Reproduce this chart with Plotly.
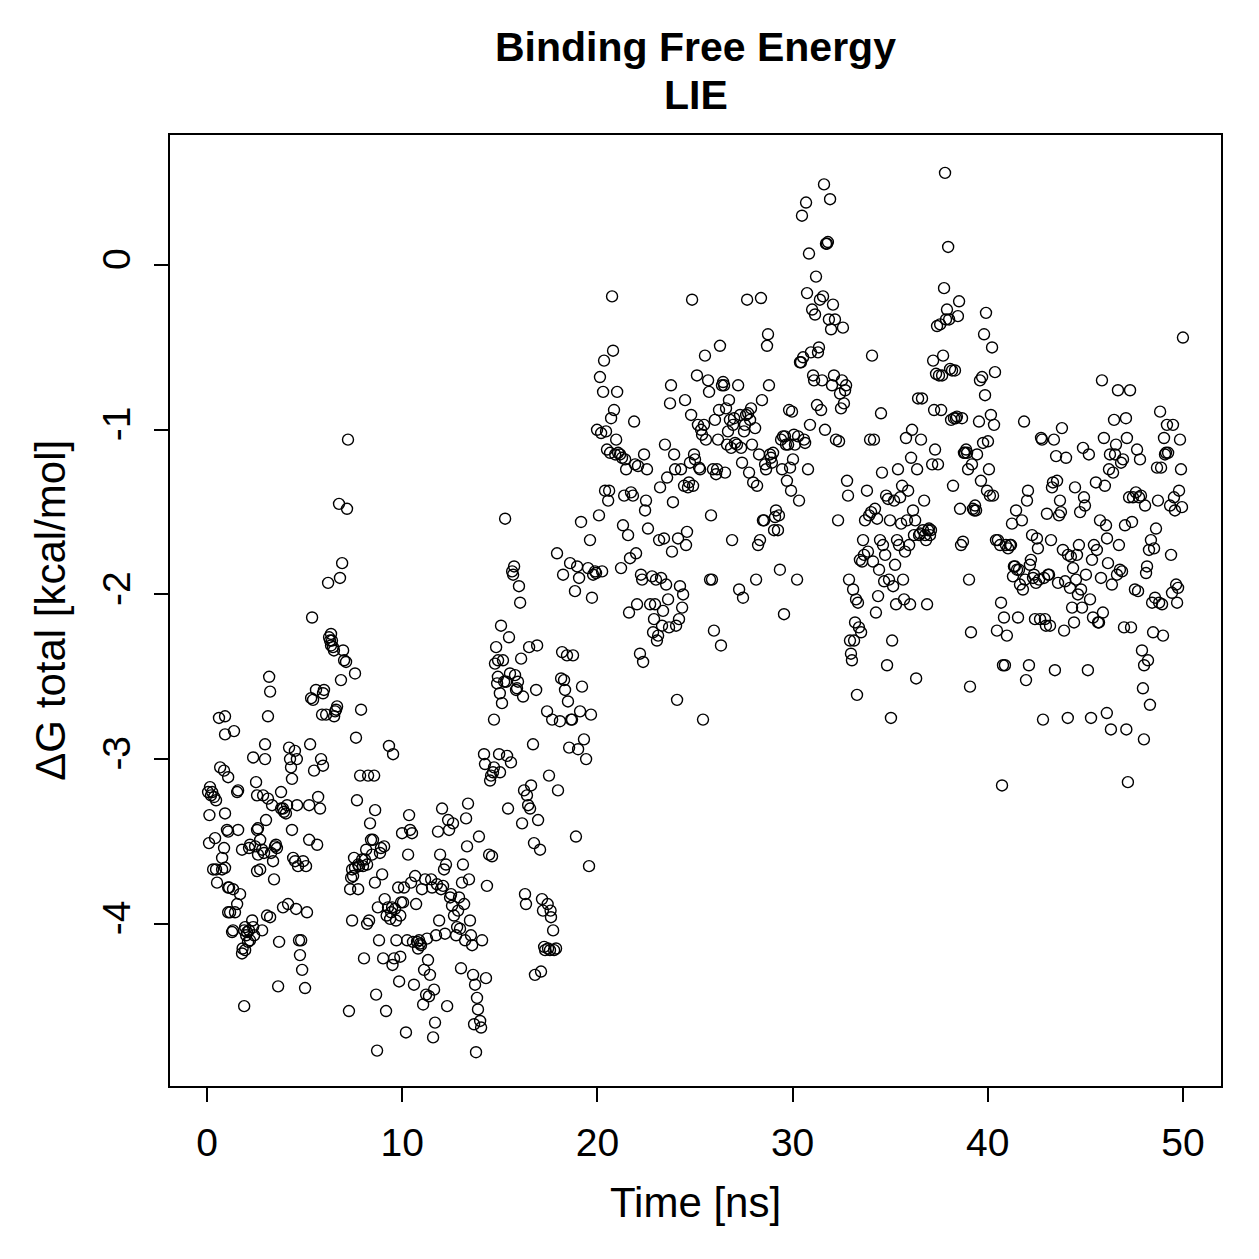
import plotly.graph_objects as go

# ---- data: time [ns] and dG total [kcal/mol] ----
time_00_10 = [
    0.10, 0.12, 0.15, 0.26, 0.36, 0.46, 0.41, 0.51, 0.46, 0.61,
    0.77, 0.77, 0.87, 0.92, 0.92, 0.87, 1.02, 1.13, 1.18, 1.33,
    1.38, 1.43, 1.54, 1.54, 1.59, 1.69, 1.79, 1.82, 1.90, 1.90,
    2.00, 2.05, 2.15, 2.15, 2.20, 2.31, 2.36, 2.41, 2.46, 2.51,
    2.61, 2.72, 2.61, 2.72, 2.82, 2.82, 2.92, 3.02, 3.07, 3.12,
    3.18, 3.12, 3.23, 2.97, 3.33, 3.38, 3.43, 3.48, 3.53, 3.58,
    3.64, 3.69, 3.79, 3.79, 3.89, 3.94, 4.04, 4.10, 4.15, 2.36,
    0.67, 1.08, 2.56, 2.87, 0.92, 1.08, 1.59, 2.56, 1.79, 2.20,
    0.31, 0.92, 2.56, 1.08, 1.33, 1.08, 1.28, 1.95, 2.10, 1.95,
    3.23, 3.89, 0.05, 0.20, 2.97, 3.28,
    4.20, 4.25, 4.30, 4.35, 4.35, 4.41, 4.51, 4.56, 4.61, 4.66,
    4.71, 4.76, 4.82, 4.87, 4.92, 5.02, 5.07, 5.12, 5.23, 5.23,
    5.28, 5.33, 5.38, 5.43, 5.48, 5.58, 5.64, 5.69, 5.79, 5.84,
    5.89, 5.94, 5.94, 5.99, 6.10, 4.50, 4.60,
    6.20, 6.25, 6.30, 6.35, 6.40, 6.45, 6.51, 6.56, 6.61, 6.66,
    6.76, 6.81, 6.86, 6.92, 6.97, 7.02, 7.12, 7.17, 7.22, 7.27,
    7.33, 7.38, 7.43, 7.48, 7.53, 7.58, 7.63, 7.68, 7.74, 7.79,
    7.74, 7.84, 7.89, 7.94, 7.99, 7.58, 7.43, 6.35, 6.50,
    8.04, 8.09, 8.15, 8.20, 8.25, 8.35, 8.40, 8.45, 8.50, 8.56,
    8.61, 8.66, 8.71, 8.81, 8.86, 8.91, 8.97, 9.02, 9.07, 9.17,
    9.27, 9.32, 9.38, 9.43, 9.48, 9.53, 9.58, 9.63, 9.68, 9.79,
    9.84, 9.94, 9.99, 8.60, 8.75, 9.10, 9.20, 9.90, 9.70, 9.50,
    9.90, 8.20, 8.30,
]
dg_00_10 = [
    -3.51, -3.34, -3.17, -3.20, -3.23, -3.25, -3.48, -3.75, -3.67, -2.75,
    -3.60, -3.67, -3.54, -2.74, -2.85, -3.07, -3.43, -3.78, -3.93, -4.04,
    -2.83, -3.93, -3.88, -3.20, -3.19, -3.82, -4.18, -4.15, -4.04, -4.50,
    -4.07, -4.05, -4.04, -3.54, -4.10, -3.98, -4.02, -4.07, -3.53, -3.14,
    -3.42, -3.49, -3.58, -3.67, -3.55, -4.04, -3.57, -3.37, -3.95, -3.24,
    -2.50, -2.74, -2.59, -2.91, -3.28, -3.62, -3.73, -3.53, -3.52, -3.54,
    -4.38, -4.11, -3.20, -3.30, -3.30, -3.32, -3.33, -3.28, -3.88, -2.99,
    -3.05, -3.11, -3.22, -3.22, -3.33, -3.44, -3.43, -3.43, -3.55, -3.52,
    -3.67, -3.66, -3.68, -3.78, -3.79, -3.93, -4.05, -4.02, -4.11, -4.16,
    -3.96, -3.90, -3.20, -3.22, -3.00, -3.57,
    -2.93, -3.00, -3.05, -3.12, -3.43, -3.60, -3.62, -3.91, -3.28, -3.65,
    -4.10, -4.19, -4.10, -4.28, -3.62, -4.39, -3.65, -3.93, -3.49, -3.28,
    -2.91, -2.63, -2.14, -2.64, -3.07, -2.58, -3.52, -3.23, -3.30, -3.00,
    -2.73, -3.04, -2.60, -2.58, -2.73, -2.95, -3.00,
    -1.93, -2.26, -2.28, -2.31, -2.28, -2.32, -2.74, -2.71, -2.70, -2.68,
    -1.45, -1.90, -2.52, -1.81, -2.34, -2.40, -2.41, -1.48, -1.06, -4.53,
    -3.79, -3.72, -3.67, -3.71, -3.60, -3.66, -2.87, -3.25, -3.64, -3.65,
    -3.79, -3.10, -2.70, -3.61, -3.65, -2.48, -3.98, -2.24, -2.34,
    -4.21, -3.61, -3.55, -3.64, -3.10, -3.39, -3.49, -3.58, -3.49, -3.10,
    -3.31, -4.43, -4.77, -4.10, -3.57, -3.54, -3.70, -4.21, -3.53, -4.53,
    -3.90, -2.92, -3.97, -3.93, -3.90, -2.97, -4.21, -3.91, -3.98, -3.78,
    -4.35, -3.87, -3.45, -3.75, -3.90, -3.85, -3.95, -3.95, -4.10, -4.25,
    -4.20, -4.00, -3.98,
]

time_10_20 = [
    10.04, 10.09, 10.19, 10.25, 10.30, 10.35, 10.40, 10.45, 10.50, 10.55,
    10.60, 10.66, 10.71, 10.76, 10.81, 10.86, 10.91, 10.96, 11.01, 11.07,
    11.12, 11.17, 11.22, 11.27, 11.32, 11.37, 11.42, 11.48, 11.53, 11.58,
    11.63, 11.68, 11.73, 11.78, 11.83, 11.89, 11.94, 11.99, 12.04, 12.09,
    12.14, 12.19, 12.24, 12.30, 12.35, 12.40, 12.45, 12.50, 12.55, 12.60,
    12.65, 12.76, 12.81, 12.86, 12.91, 12.96, 13.01, 13.06, 13.11, 13.17,
    13.22, 13.27, 13.32, 13.37, 13.42, 13.47, 13.52, 13.58, 13.63, 13.68,
    13.73, 13.78, 13.83, 13.88, 13.93, 13.99, 14.04, 14.09, 14.19, 14.24,
    14.29, 14.34, 14.45, 14.50, 14.60, 14.65, 14.70, 14.75, 14.81, 14.86,
    14.91, 14.96, 15.01, 15.06, 15.11, 15.16, 15.22, 15.27, 15.32, 15.37,
    15.42, 15.47, 15.52, 15.57, 15.63, 15.68, 15.73, 15.78, 15.83, 15.88,
    15.93, 15.98, 16.04, 16.09, 16.14, 16.19, 16.24, 16.29, 16.34, 16.39,
    16.45, 16.50, 16.55, 16.60, 16.70, 16.75, 16.80, 16.86, 16.91, 16.96,
    17.06, 17.11, 17.16, 17.21, 17.27, 17.32, 17.42, 17.47, 17.52, 17.57,
    17.62, 17.68, 17.73, 17.78, 17.88, 17.93, 17.98, 18.08, 18.14, 18.19,
    18.24, 18.29, 18.34, 18.44, 18.49, 18.55, 18.60, 18.65, 18.70, 18.75,
    18.85, 18.90, 18.96, 19.01, 19.06, 19.11, 19.16, 19.21, 19.31, 19.42,
    19.52, 19.57, 19.62, 19.67, 19.72, 19.78, 19.88, 19.93,
    17.45, 17.60, 14.55, 14.70, 14.90, 15.00,
]
dg_10_20 = [
    -3.87, -3.78, -4.66, -4.10, -3.58, -3.34, -3.43, -3.75, -3.45, -4.11,
    -4.37, -3.71, -3.88, -4.11, -4.15, -4.10, -4.12, -4.13, -3.79, -4.49,
    -4.28, -3.73, -4.43, -4.09, -4.22, -4.44, -4.31, -3.73, -3.78, -4.69,
    -4.40, -4.60, -4.07, -3.76, -3.44, -3.98, -3.58, -3.79, -3.30, -3.77,
    -3.67, -4.06, -3.64, -4.50, -3.37, -3.43, -3.84, -3.82, -3.89, -3.39,
    -3.95, -4.07, -4.02, -3.92, -3.84, -4.03, -4.27, -3.75, -3.64, -3.88,
    -4.10, -3.36, -3.53, -3.27, -3.73, -3.98, -4.07, -4.13, -4.31, -4.61,
    -4.37, -4.78, -4.45, -4.52, -3.47, -4.59, -4.63, -4.10, -2.97, -3.03,
    -4.33, -3.77, -3.58, -3.13, -3.59, -3.08, -2.76, -2.42, -2.32, -2.54,
    -2.40, -2.97, -3.08, -2.19, -2.66, -2.40, -2.53, -1.54, -2.53, -2.98,
    -3.30, -2.26, -2.48, -3.02, -1.86, -1.88, -1.83, -2.49, -2.58, -2.57,
    -2.53, -1.95, -2.05, -2.39, -3.39, -2.62, -3.19, -3.82, -3.88, -3.22,
    -3.28, -2.32, -3.30, -3.16, -2.91, -3.51, -4.31, -2.58, -2.31, -3.37,
    -3.55, -4.29, -3.85, -3.92, -4.14, -4.16, -2.71, -4.15, -3.10, -4.16,
    -3.96, -2.76, -4.04, -4.16, -4.15, -1.75, -3.19, -2.77, -2.51, -2.35,
    -1.88, -2.52, -2.58, -2.37, -2.65, -2.93, -1.81, -2.76, -2.76, -2.37,
    -1.98, -3.47, -1.83, -2.94, -1.90, -2.71, -1.56, -2.56, -2.88, -3.00,
    -1.84, -3.65, -1.67, -2.73, -2.02, -1.88, -1.86, -1.87,
    -3.88, -3.92, -3.10, -3.05, -2.50, -2.60,
]

time_20_30 = [
    19.98, 20.08, 20.13, 20.19, 20.24, 20.29, 20.34, 20.39, 20.44, 20.49,
    20.55, 20.60, 20.65, 20.70, 20.75, 20.80, 20.85, 20.91, 20.96, 21.01,
    21.06, 21.16, 21.21, 21.26, 21.31, 21.37, 21.42, 21.47, 21.57, 21.62,
    21.67, 21.72, 21.82, 21.88, 21.93, 21.98, 22.03, 22.08, 22.18, 22.23,
    22.29, 22.34, 22.39, 22.44, 22.49, 22.54, 22.59, 22.70, 22.80, 22.85,
    22.90, 22.95, 23.00, 23.05, 23.11, 23.16, 23.21, 23.26, 23.31, 23.36,
    23.41, 23.46, 23.52, 23.57, 23.62, 23.67, 23.72, 23.77, 23.82, 23.87,
    23.93, 23.98, 24.03, 24.08, 24.13, 24.18, 24.23, 24.28, 24.34, 24.39,
    24.44, 24.49, 24.54, 24.59, 24.64, 24.69, 24.74, 24.80, 24.85, 24.90,
    24.95, 25.00, 25.10, 25.15, 25.21, 25.26, 25.31, 25.36, 25.41, 25.46,
    25.51, 25.56, 25.67, 25.72, 25.77, 25.82, 25.87, 25.92, 25.97, 26.02,
    26.08, 26.13, 26.18, 26.23, 26.28, 26.33, 26.38, 26.44, 26.49, 26.54,
    26.59, 26.64, 26.69, 26.74, 26.79, 26.85, 26.90, 26.95, 27.00, 27.05,
    27.15, 27.21, 27.26, 27.31, 27.36, 27.41, 27.46, 27.51, 27.56, 27.62,
    27.67, 27.72, 27.77, 27.82, 27.87, 27.92, 27.98, 28.08, 28.13, 28.18,
    28.23, 28.28, 28.33, 28.38, 28.43, 28.48, 28.54, 28.59, 28.64, 28.69,
    28.74, 28.79, 28.84, 28.89, 28.94, 29.00, 29.05, 29.10, 29.15, 29.25,
    29.30, 29.35, 29.41, 29.46, 29.51, 29.56, 29.61, 29.66, 29.71, 29.77,
    29.82, 29.87, 29.92, 29.97,
]
dg_20_30 = [
    -1.00, -1.52, -0.68, -1.02, -1.86, -0.77, -0.58, -1.37, -1.01, -1.12,
    -1.43, -1.37, -1.14, -0.93, -0.19, -0.52, -0.88, -1.15, -1.06, -0.77,
    -1.14, -1.15, -1.84, -1.17, -1.58, -1.40, -1.18, -1.24, -1.64, -2.11,
    -1.78, -1.38, -1.40, -0.95, -1.21, -1.75, -2.06, -1.22, -2.36, -1.88,
    -1.91, -2.41, -1.15, -1.49, -1.43, -1.24, -1.60, -2.06, -1.89, -2.23,
    -2.15, -2.06, -1.91, -2.28, -2.25, -1.67, -1.35, -1.90, -2.19, -2.10,
    -1.66, -1.09, -1.94, -1.29, -2.03, -2.20, -0.84, -0.73, -1.74, -1.44,
    -1.15, -1.24, -2.19, -2.64, -1.66, -2.15, -1.95, -1.24, -2.08, -2.00,
    -1.34, -0.82, -1.70, -1.62, -1.35, -1.32, -1.20, -0.91, -0.21, -1.34,
    -1.15, -1.18, -0.67, -0.97, -1.23, -1.24, -1.00, -1.03, -2.76, -0.97,
    -0.55, -1.06, -0.70, -0.77, -1.91, -1.52, -1.91, -1.24, -2.22, -0.94,
    -1.27, -1.24, -1.06, -0.88, -0.49, -2.31, -0.73, -0.71, -0.73, -1.26,
    -0.87, -1.09, -1.01, -0.82, -0.94, -1.11, -1.67, -0.97, -0.93, -1.08,
    -1.09, -0.73, -1.97, -0.91, -1.11, -1.20, -2.02, -1.01, -0.97, -0.91,
    -0.21, -0.90, -1.26, -0.94, -0.87, -1.09, -1.32, -0.99, -1.91, -1.34,
    -1.70, -1.15, -1.67, -0.20, -0.82, -1.55, -1.55, -1.21, -1.24, -0.49,
    -0.42, -0.73, -1.15, -1.17, -1.20, -1.14, -1.61, -1.53, -1.49, -1.61,
    -1.52, -1.85, -1.06, -1.24, -1.04, -2.12, -1.04, -1.09, -1.31, -1.09,
    -0.88, -1.23, -1.37, -0.89,
]

time_30_40 = [
    30.02, 30.07, 30.12, 30.23, 30.28, 30.33, 30.38, 30.43, 30.48, 30.54,
    30.59, 30.64, 30.69, 30.74, 30.79, 30.84, 30.89, 30.94, 31.00, 31.05,
    31.10, 31.15, 31.20, 31.25, 31.30, 31.35, 31.40, 31.46, 31.51, 31.56,
    31.61, 31.66, 31.71, 31.76, 31.81, 31.86, 31.92, 31.97, 32.02, 32.07,
    32.12, 32.17, 32.22, 32.33, 32.38, 32.43, 32.48, 32.53, 32.58, 32.63,
    32.69, 32.74, 32.79, 32.84, 32.89, 32.94, 32.99, 33.04, 33.10, 33.15,
    33.20, 33.25, 33.30, 33.35, 33.40, 33.45, 33.51, 33.56, 33.61, 33.66,
    33.71, 33.81, 33.86, 33.92, 33.97, 34.02, 34.07, 34.12, 34.17, 34.22,
    34.27, 34.33, 34.38, 34.43, 34.48, 34.53, 34.58, 34.63, 34.69, 34.74,
    34.79, 34.84, 34.89, 34.94, 34.99, 35.04, 35.10, 35.15, 35.20, 35.25,
    35.30, 35.35, 35.40, 35.45, 35.51, 35.56, 35.61, 35.66, 35.71, 35.76,
    35.81, 35.86, 35.92, 35.97, 36.02, 36.07, 36.12, 36.17, 36.22, 36.28,
    36.33, 36.38, 36.43, 36.48, 36.53, 36.58, 36.63, 36.68, 36.74, 36.79,
    36.84, 36.89, 36.94, 36.99, 37.04, 37.09, 37.15, 37.20, 37.25, 37.30,
    37.35, 37.40, 37.45, 37.50, 37.56, 37.61, 37.66, 37.71, 37.76, 37.81,
    37.86, 37.91, 37.97, 38.02, 38.07, 38.12, 38.17, 38.22, 38.27, 38.32,
    38.37, 38.42, 38.47, 38.53, 38.58, 38.63, 38.68, 38.73, 38.78, 38.83,
    38.89, 38.94, 38.99, 39.04, 39.09, 39.14, 39.19, 39.24, 39.30, 39.35,
    39.40, 39.45, 39.55, 39.60, 39.65, 39.71, 39.76, 39.81, 39.86, 39.91,
    39.96,
]
dg_30_40 = [
    -1.18, -1.03, -1.09, -1.91, -1.04, -1.43, -0.59, -0.59, 0.30, -0.56,
    -1.06, -1.08, 0.38, -0.17, -1.24, 0.07, -0.97, -0.53, -0.27, -0.67,
    -0.70, -0.30, -0.07, -0.85, -0.53, -0.50, -0.21, -0.88, -0.70, -0.19,
    0.49, -1.00, 0.13, 0.13, 0.14, -0.33, 0.40, -0.39, -0.73, -0.24,
    -0.67, -0.33, -1.06, -1.55, -1.07, -0.78, -0.87, -0.70, -0.38, -0.84,
    -0.76, -0.73, -1.31, -1.40, -1.91, -2.28, -2.36, -2.40, -1.97, -2.28,
    -2.17, -2.03, -2.61, -2.05, -2.20, -1.79, -2.23, -1.80, -1.67, -1.76,
    -1.55, -1.37, -1.74, -1.52, -1.06, -1.50, -0.55, -1.80, -1.06, -1.48,
    -2.11, -1.54, -2.01, -1.85, -1.67, -0.90, -1.26, -1.70, -1.92, -1.76,
    -1.40, -2.43, -1.42, -1.91, -1.55, -2.75, -2.28, -1.95, -1.43, -1.82,
    -2.06, -1.67, -1.24, -1.70, -1.41, -1.57, -1.34, -1.91, -2.03, -1.74,
    -1.05, -1.55, -1.37, -1.70, -2.06, -1.17, -1.00, -1.49, -1.64, -1.55,
    -2.51, -1.24, -0.81, -1.64, -1.63, -1.06, -0.81, -1.61, -1.43, -1.64,
    -1.67, -2.06, -1.61, -1.60, -1.64, -1.61, -1.21, -0.58, -0.88, -1.12,
    -0.66, -0.37, -1.21, -0.67, -0.36, -0.88, -0.67, -0.55, -0.14, 0.56,
    -0.33, -0.27, 0.11, -0.33, -0.63, -0.94, -0.64, -1.34, -0.93, -0.64,
    -0.93, -0.92, -0.31, -0.22, -1.48, -1.70, -0.93, -1.68, -1.14, -1.14,
    -1.12, -1.14, -1.24, -1.91, -2.56, -2.23, -1.21, -1.48, -1.49, -1.46,
    -1.49, -1.15, -0.95, -0.70, -1.31, -0.68, -1.08, -0.42, -0.79, -0.29,
    -1.37,
]

time_40_50 = [
    40.01, 40.06, 40.11, 40.16, 40.22, 40.27, 40.32, 40.37, 40.42, 40.47,
    40.52, 40.63, 40.68, 40.73, 40.78, 40.83, 40.88, 40.93, 40.98, 41.04,
    41.14, 41.19, 41.24, 41.29, 41.34, 41.39, 41.45, 41.50, 41.55, 41.60,
    41.65, 41.75, 41.80, 41.86, 41.91, 41.96, 42.01, 42.06, 42.11, 42.16,
    42.21, 42.27, 42.32, 42.37, 42.42, 42.47, 42.52, 42.57, 42.63, 42.68,
    42.73, 42.78, 42.83, 42.88, 42.93, 42.98, 43.03, 43.09, 43.14, 43.19,
    43.24, 43.29, 43.34, 43.39, 43.44, 43.50, 43.55, 43.60, 43.65, 43.70,
    43.75, 43.80, 43.85, 43.91, 43.96, 44.01, 44.11, 44.21, 44.26, 44.32,
    44.37, 44.42, 44.47, 44.52, 44.57, 44.62, 44.67, 44.73, 44.78, 44.83,
    44.88, 44.93, 44.98, 45.03, 45.13, 45.18, 45.24, 45.29, 45.34, 45.39,
    45.44, 45.54, 45.59, 45.65, 45.70, 45.75, 45.80, 45.85, 45.90, 45.95,
    46.00, 46.06, 46.11, 46.16, 46.21, 46.26, 46.31, 46.36, 46.42, 46.47,
    46.52, 46.57, 46.62, 46.67, 46.72, 46.77, 46.83, 46.88, 46.93, 46.98,
    47.03, 47.08, 47.13, 47.18, 47.24, 47.29, 47.34, 47.39, 47.44, 47.54,
    47.59, 47.65, 47.70, 47.75, 47.80, 47.85, 47.90, 47.95, 48.01, 48.06,
    48.11, 48.16, 48.21, 48.26, 48.31, 48.36, 48.42, 48.47, 48.52, 48.57,
    48.62, 48.67, 48.72, 48.78, 48.83, 48.88, 48.93, 48.98, 49.03, 49.08,
    49.13, 49.18, 49.24, 49.34, 49.39, 49.44, 49.49, 49.54, 49.59, 49.65,
    49.70, 49.75, 49.80, 49.85, 49.90, 49.95, 50.00,
    44.10, 46.10, 47.10, 48.00,
]
dg_40_50 = [
    -1.07, -1.24, -1.40, -0.91, -0.50, -1.40, -0.97, -0.65, -1.67, -2.22,
    -1.67, -1.70, -2.05, -3.16, -2.43, -2.14, -2.43, -1.70, -2.25, -1.72,
    -1.70, -1.70, -1.57, -1.89, -1.83, -1.83, -1.49, -1.85, -2.14, -1.85,
    -1.94, -1.55, -1.97, -0.95, -1.91, -2.52, -1.43, -1.37, -2.43, -1.82,
    -1.79, -1.64, -1.90, -1.88, -2.15, -1.93, -1.66, -1.72, -1.91, -2.15,
    -1.05, -1.06, -2.76, -1.90, -2.15, -2.19, -1.51, -1.88, -1.88, -2.19,
    -1.67, -1.35, -1.32, -1.06, -2.46, -1.16, -1.31, -1.93, -1.52, -1.43,
    -1.50, -0.99, -1.73, -2.22, -1.92, -1.17, -1.76, -1.96, -1.77, -2.08,
    -1.84, -2.17, -1.35, -1.91, -1.76, -2.00, -1.70, -1.50, -1.97, -2.08,
    -1.11, -1.41, -1.46, -1.88, -2.46, -1.15, -2.03, -2.75, -1.79, -2.14,
    -1.70, -1.32, -1.73, -2.17, -2.17, -1.55, -1.90, -0.70, -2.11, -1.05,
    -1.34, -1.58, -1.66, -1.81, -1.24, -1.15, -2.82, -1.94, -1.26, -0.94,
    -1.15, -1.09, -1.88, -0.76, -1.70, -1.85, -1.20, -1.86, -1.18, -2.20,
    -1.58, -0.93, -1.05, -3.14, -1.41, -0.76, -2.20, -1.56, -1.41, -1.97,
    -1.38, -1.12, -1.98, -1.41, -1.18, -1.40, -2.34, -2.57, -2.43, -1.46,
    -1.87, -1.83, -2.40, -1.73, -2.67, -1.67, -2.05, -2.23, -1.72, -2.02,
    -1.60, -1.23, -1.43, -2.05, -0.89, -1.23, -2.06, -2.25, -1.05, -1.15,
    -1.14, -0.97, -1.14, -1.46, -1.76, -1.99, -0.97, -1.41, -1.49, -1.94,
    -2.05, -1.96, -1.37, -1.06, -1.24, -1.47, -0.44,
    -2.75, -2.72, -2.82, -2.88,
]

x_ticks = [0, 10, 20, 30, 40, 50]
y_ticks = [-4, -3, -2, -1, 0]
y_tick_labels = ["-4", "-3", "-2", "-1", "0"]

title_line1 = "Binding Free Energy"
title_line2 = "LIE"
x_label = "Time [ns]"
y_label = "\u0394G total [kcal/mol]"

segments = [
    (time_00_10, dg_00_10),
    (time_10_20, dg_10_20),
    (time_20_30, dg_20_30),
    (time_30_40, dg_30_40),
    (time_40_50, dg_40_50),
]
for t, g in segments:
    assert len(t) == len(g), (len(t), len(g))

time_all = [v for t, _ in segments for v in t]
dg_all = [v for _, g in segments for v in g]

FONT = "Liberation Sans, Arial, Helvetica, sans-serif"
FS_TICK = 39
FS_LABEL = 42
FS_TITLE = 41

fig = go.Figure()
fig.add_trace(go.Scatter(
    x=time_all, y=dg_all, mode="markers",
    marker=dict(symbol="circle-open", size=11, color="black",
                line=dict(color="black", width=1.4)),
    showlegend=False, hoverinfo="x+y",
))

axis_common = dict(
    showline=True, linecolor="black", linewidth=2.2, mirror=True,
    ticks="outside", ticklen=14, tickwidth=2, tickcolor="black",
    showgrid=False, zeroline=False,
    tickfont=dict(family=FONT, size=FS_TICK, color="black"),
)

fig.update_layout(
    width=1259, height=1259,
    margin=dict(l=170, r=38, t=135, b=173),
    paper_bgcolor="white", plot_bgcolor="white",
    xaxis=dict(range=[-1.9, 51.95], tickvals=x_ticks, ticklabelstandoff=7,
               **axis_common),
    yaxis=dict(range=[-4.985, 0.79], tickvals=y_ticks, ticktext=y_tick_labels,
               tickangle=-90, ticklabelstandoff=8, **axis_common),
    annotations=[
        dict(text="<b>" + title_line1 + "</b>", xref="paper", yref="paper",
             x=0.5, y=1.0925, xanchor="center", yanchor="middle",
             showarrow=False, font=dict(family=FONT, size=FS_TITLE, color="black")),
        dict(text="<b>" + title_line2 + "</b>", xref="paper", yref="paper",
             x=0.5, y=1.042, xanchor="center", yanchor="middle",
             showarrow=False, font=dict(family=FONT, size=FS_TITLE, color="black")),
        dict(text=x_label, xref="paper", yref="paper",
             x=0.5, y=-0.123, xanchor="center", yanchor="middle",
             showarrow=False, font=dict(family=FONT, size=FS_LABEL, color="black")),
        dict(text=y_label, xref="paper", yref="paper",
             x=-0.114, y=0.5, xanchor="center", yanchor="middle", textangle=-90,
             showarrow=False, font=dict(family=FONT, size=FS_LABEL, color="black")),
    ],
)

fig.write_html("out.html")
